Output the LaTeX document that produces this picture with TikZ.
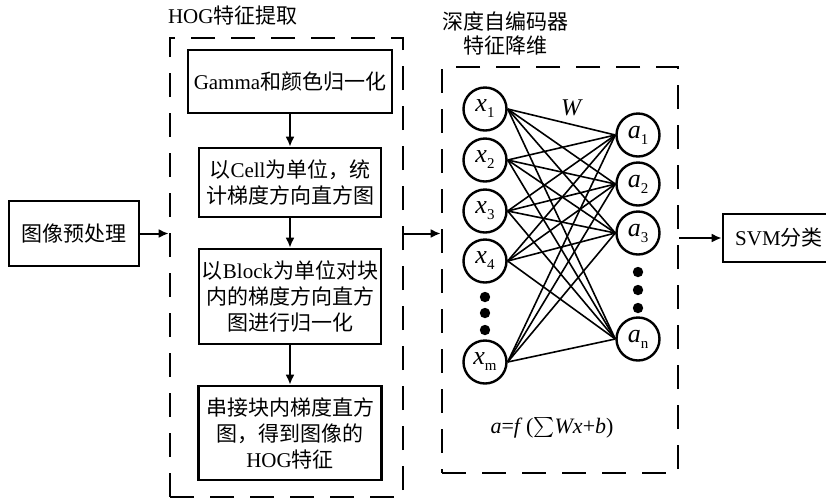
\documentclass[tikz,border=0pt]{standalone}
\usepackage{fontspec}
\setmainfont{Liberation Serif}
\newfontfamily\zhfont{Noto Sans CJK SC}
\usetikzlibrary{arrows.meta, positioning}

% neuron label: big italic letter, small low index
\newcommand{\neulab}[2]{{\fontsize{13pt}{13pt}\selectfont\textit{#1}}\raisebox{-3pt}{\fontsize{7.5pt}{7.5pt}\selectfont #2}}

\begin{document}
\begin{tikzpicture}[x=0.5pt, y=-0.5pt,
        font=\fontsize{10.5pt}{13pt}\selectfont,
        box/.style={draw, line width=1.3pt, align=center, inner sep=0pt},
        dashbox/.style={draw, line width=1.3pt, dash pattern=on 12pt off 8pt, inner sep=0pt},
        arr/.style={line width=1pt, -{Latex[length=5pt, width=4.5pt]}},
        neuron/.style={draw, circle, line width=1.2pt, minimum size=21.5pt, inner sep=0pt},
        wline/.style={line width=0.8pt}]
    \useasboundingbox (0,0) rectangle (826,500);

    % Preprocessing
    \node[box, minimum width=65pt, minimum height=32.5pt] (pre) at (74,233.5) {\zhfont 图像预处理};

    % HOG feature extraction
    \node[dashbox, minimum width=116.5pt, minimum height=229.5pt] (hog) at (286.5,267.5) {};
    \node[anchor=west] (hogtitle) at (161,16) {HOG{\zhfont 特征提取}};
    \node[box, minimum width=102pt, minimum height=31.5pt] (gamma) at (290,81.5) {Gamma{\zhfont 和颜色归一化}};
    \node[box, minimum width=91pt, minimum height=34.5pt] (cell) at (290,182.5)
        {{\zhfont 以}Cell{\zhfont 为单位，统}\\{\zhfont 计梯度方向直方图}};
    \node[box, minimum width=91pt, minimum height=47.5pt] (block) at (290,296.5)
        {{\zhfont 以}Block{\zhfont 为单位对块}\\{\zhfont 内的梯度方向直方}\\{\zhfont 图进行归一化}};
    \node[box, minimum width=91.5pt, minimum height=47pt] (concat) at (290,433)
        {{\zhfont 串接块内梯度直方}\\{\zhfont 图，得到图像的}\\HOG{\zhfont 特征}};
    \draw[arr] (gamma) -- (cell);
    \draw[arr] (cell) -- (block);
    \draw[arr] (block) -- (concat);

    % Deep autoencoder
    \node[dashbox, minimum width=118pt, minimum height=203pt] (ae) at (560,270) {};
    \node[align=center, font=\fontsize{10.5pt}{12pt}\selectfont] (aetitle) at (505,33)
        {\zhfont 深度自编码器\\\zhfont 特征降维};
    \foreach \n/\y in {1/109, 2/160, 3/211, 4/261, m/362}
        \node[neuron] (x\n) at (485,\y) {\neulab{x}{\n}};
    \foreach \n/\y in {1/135, 2/184, 3/233, n/339}
        \node[neuron] (a\n) at (638,\y) {\neulab{a}{\n}};
    \foreach \y in {297,313,330} \fill (485,\y) circle (2.6pt);
    \foreach \y in {272,290,308} \fill (638,\y) circle (2.6pt);
    \foreach \i in {1,2,3,4,m}
        \foreach \j in {1,2,3,n}
            \draw[wline] (x\i.east) -- (a\j.west);
    \node[font=\fontsize{12pt}{12pt}\selectfont] (wlab) at (572,108) {\textit{W}};
    \node[font=\fontsize{11pt}{11pt}\selectfont] (formula) at (552,428)
        {\textit{a}=\textit{f}\,($\sum$\textit{Wx}+\textit{b})};

    % SVM
    \node[box, minimum width=56pt, minimum height=24pt] (svm) at (779,238) {SVM{\zhfont 分类}};

    % Flow between stages
    \draw[arr] (pre.east) -- (pre.east -| hog.west);
    \draw[arr] (pre.east -| hog.east) -- (pre.east -| ae.west);
    \draw[arr] (svm.west -| ae.east) -- (svm.west);
\end{tikzpicture}
\end{document}
